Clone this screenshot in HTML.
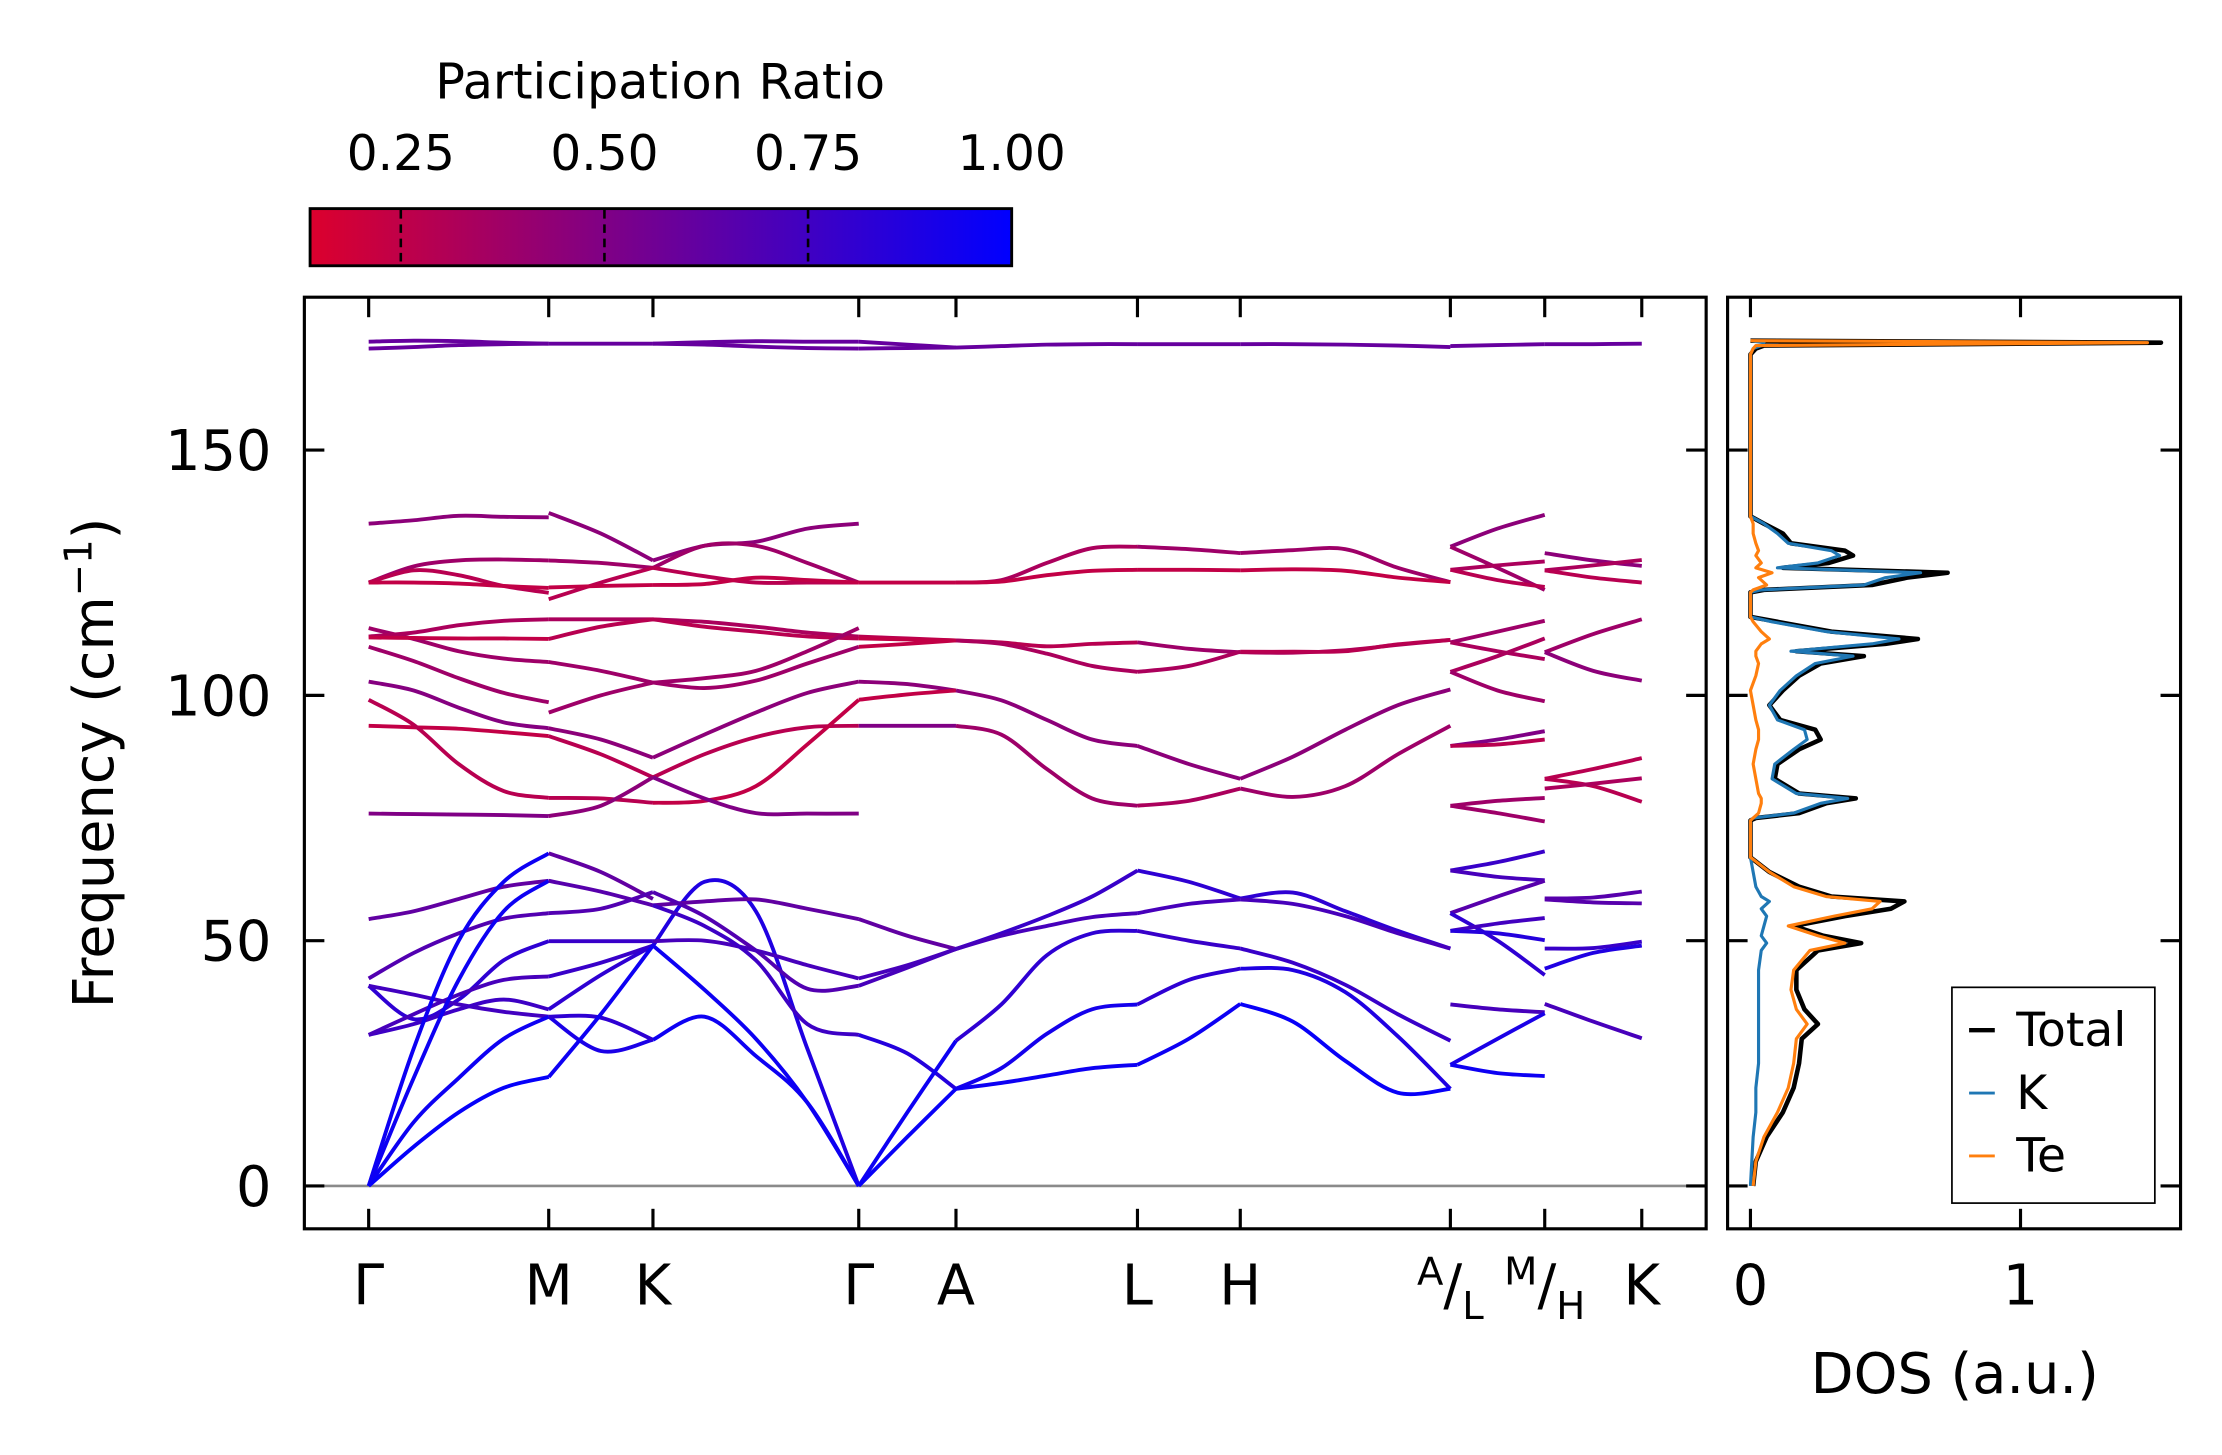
<!DOCTYPE html>
<html><head><meta charset="utf-8">
<style>
html,body{margin:0;padding:0;background:#fff;}
svg{display:block;}
text{font-family:"DejaVu Sans","Liberation Sans",sans-serif;fill:#000;}
</style></head>
<body>
<svg id="fig" width="2222" height="1455" viewBox="0 0 1555 1018.3" preserveAspectRatio="none" xmlns="http://www.w3.org/2000/svg">
<defs>
<linearGradient id="cbgrad" x1="0" x2="1" y1="0" y2="0">
<stop offset="0" stop-color="rgb(220,0,45)"/><stop offset="1" stop-color="rgb(0,0,255)"/>
</linearGradient>
<clipPath id="mainclip"><rect x="213" y="208" width="981" height="652"/></clipPath>
<clipPath id="dosclip"><rect x="1209" y="208" width="317" height="652"/></clipPath>
</defs>
<rect x="0" y="0" width="1555" height="1018.3" fill="#fff"/>
<g id="colorbar">
<text x="462" y="69" font-size="34.5" text-anchor="middle">Participation Ratio</text>
<rect x="217" y="146" width="491" height="40" fill="url(#cbgrad)" stroke="#000" stroke-width="2"/>
</g>
<g id="main"></g>
<g id="dos"></g>
</svg>
<script>
// ---------- data ----------
const cbTicks = [0.25, 0.50, 0.75, 1.00];
const cbTickLabels = ["0.25", "0.50", "0.75", "1.00"];
const kPoints = [0, 1, 1.579, 2.722, 3.262, 4.270, 4.841, 6.008, 6.532, 7.071];
const kLabels = ["Γ","M","K","Γ","A","L","H","A|L","M|H","K"];
const yTicks = [0, 50, 100, 150];
const yTickLabels = ["0","50","100","150"];

const bandsGM = [
[172.1,172.3,172.2,171.9,171.7],[170.7,171.0,171.4,171.6,171.7],[135,135.7,136.6,136.4,136.3],
[123,126.3,127.5,127.7,127.5],[123,125.5,124.5,122.3,120.9],[123,123,122.8,122.3,121.9],
[113.7,111.5,109,107.5,106.8],[112,112.8,114.3,115.2,115.5],[111.8,111.7,111.6,111.6,111.5],
[109.9,107,103.5,100.5,98.6],[102.8,101,97.5,94.5,93.3],[93.8,93.5,93.2,92.5,91.7],
[99.1,94,86,80.5,79.1],[75.9,75.8,75.7,75.6,75.4],[54.4,56,58.5,61,62.2],
[42.3,47.5,51.5,54.5,55.6],[40.8,34,38,46,49.9],[40.8,39,37,35.5,34.5],
[30.8,33,36,38,36],[30.8,35,39,42,42.7],[0,28,50,62,67.8],[0,22,42,56,62.2],
[0,13,22,30,34.5],[0,8,15,20,22.2]];
const prGM = [.6,.6,.45,.38,.28,.24,.38,.33,.24,.38,.48,.24,.28,.5,.62,.68,.82,.74,.76,.72,.95,.95,.95,.98];

const bandsMK = [
[171.7,171.7,171.7],[137.2,133,127.5],[127.5,127,126],[119.6,123,126],[122,122.3,122.5],
[115.5,115.5,115.5],[111.5,114,115.5],[106.8,105,102.6],[96.5,100,102.6],[93.3,91,87.3],
[91.7,88,83.3],[79.1,79,78.1],[75.4,77.5,83.3],[67.8,64,58.5],[62.2,60,57.2],
[55.6,56.5,59.9],[49.9,49.9,49.9],[42.7,45.5,49],[36,43,49],[34.5,27.5,29.8],
[34.5,34.3,29.8],[22.2,35,49]];
const prMK = [.6,.45,.38,.28,.24,.33,.28,.38,.38,.45,.28,.28,.45,.62,.66,.68,.78,.78,.82,.9,.82,.95];

const bandsKG = [
[171.7,172,172.2,172.1,172.1],[171.7,171.5,171.1,170.8,170.7],[127.5,130.5,131.3,134,135],
[126,130.5,130.5,127,123],[126,124.3,123,123,123],[122.5,122.7,124,123.5,123],
[115.5,115,114,112.8,112],[115.5,114,113,112,111.6],[102.6,103.5,105,109,113.7],
[102.6,101.5,103,106.5,109.9],[87.3,92,96.5,100.5,102.8],[83.3,88,91.5,93.5,93.8],
[78.1,78.5,81.5,90,99.1],[83.3,79,76,75.9,75.9],[49,62,56,28,0],[49,40,30,17,0],
[29.8,34.5,26.5,17,0],[57.2,58,58.4,56.5,54.4],[59.9,55,48,40.2,40.8],
[49.9,50,48,45,42.3],[57.2,53,46,33,30.8]];
const prKG = [.6,.6,.45,.38,.28,.24,.33,.28,.38,.38,.45,.28,.24,.5,.88,.95,.95,.62,.68,.72,.76];

const bandsGA = [
[172.1,171.5,170.9],[170.7,170.8,170.9],[123,123,123],[112,111.6,111.2],[111.6,111.4,111.2],
[109.9,110.5,111.2],[102.8,102.3,101],[99.1,100.2,101],[93.8,93.8,93.8],[54.4,51,48.3],
[40.8,44.5,48.3],[42.3,45,48.3],[30.8,27,19.8],[0,15,29.6],[0,10,19.8]];
const prGA = [.6,.6,.24,.28,.24,.24,.45,.24,.5,.62,.72,.72,.86,.95,.97];

const bandsAL = [
[170.9,171.2,171.5,171.6,171.6],[123,123.5,127,130,130.3],[123,123.2,124.5,125.4,125.6],
[111.2,110.8,110,110.5,110.8],[111.2,110.5,108.5,106,104.8],[101,99,95,91,89.7],
[93.8,92,85,79,77.5],[48.3,51.5,55,59,64.3],[48.3,51,53,54.8,55.6],[29.6,37,47,51.5,52],
[19.8,24,31,36,37],[19.8,21,22.5,24,24.7]];
const prAL = [.6,.33,.24,.28,.33,.45,.38,.78,.72,.82,.92,.95];

const bandsLH = [
[171.6,171.6,171.6],[130.3,129.8,129],[125.6,125.6,125.5],[110.8,109.5,108.8],[104.8,106,108.9],
[89.7,86,83],[77.5,78.5,81],[64.3,62,58.6],[55.6,57.5,58.4],[52,50,48.4],[37,42,44.3],[24.7,30,37.1]];
const prLH = [.6,.38,.24,.38,.33,.45,.33,.82,.72,.78,.82,.95];

const bandsHA = [
[171.6,171.6,171.5,171.3,171.0],[129,129.6,129.8,126,123.1],[125.5,125.7,125.4,124,123.1],
[108.8,108.7,109.2,110.3,111.3],[108.9,108.9,109,110.4,111.3],[83,87.5,93,98,101.2],
[81,79.3,81.5,88,93.8],[58.6,59.8,56,52,48.4],[58.4,57.5,55,51.5,48.4],[48.4,45.5,41,35,29.6],
[44.3,44,39.5,30.5,19.8],[37.1,33.5,25.5,19,19.8]];
const prHA = [.6,.38,.24,.33,.28,.45,.38,.82,.72,.78,.88,.97];

const bandsLM = [
[171.2,171.4,171.6],[130.3,134,136.8],[130.3,126,121.5],[125.6,126.5,127.3],[125.6,123.5,122.1],
[110.8,113,115.2],[110.8,109,107.4],[104.8,108,111.6],[104.8,101,98.8],[89.7,91,92.7],
[89.7,90,91],[77.5,78.5,79.1],[77.5,76,74.3],[64.3,66,68.2],[64.3,63,62.3],[55.6,59,62.2],
[55.6,50,43],[52,53.5,54.6],[52,51.5,50.1],[37,36,35.4],[24.7,30,35.2],[24.7,23,22.4]];
const prLM = [.6,.45,.38,.33,.28,.38,.33,.33,.38,.5,.28,.38,.38,.78,.72,.66,.82,.74,.86,.72,.9,.95];

const bandsHK = [
[171.6,171.6,171.7],[129,127.5,126.4],[125.5,126.5,127.6],[125.5,124,123],[108.8,112.5,115.5],
[108.8,105,103],[83,85,87.2],[83,81.5,78.3],[81,82,83.1],[58.6,58.8,60],[58.4,57.8,57.6],
[48.4,48.5,49.8],[44.3,47.5,49],[37.1,33.5,30.1]];
const prHK = [.6,.45,.33,.28,.38,.45,.28,.28,.33,.66,.66,.78,.88,.72];

const segments = [
 {from:0,to:1,bands:bandsGM,pr:prGM},{from:1,to:2,bands:bandsMK,pr:prMK},
 {from:2,to:3,bands:bandsKG,pr:prKG},{from:3,to:4,bands:bandsGA,pr:prGA},
 {from:4,to:5,bands:bandsAL,pr:prAL},{from:5,to:6,bands:bandsLH,pr:prLH},
 {from:6,to:7,bands:bandsHA,pr:prHA},{from:7,to:8,bands:bandsLM,pr:prLM},
 {from:8,to:9,bands:bandsHK,pr:prHK}];

const dosFreq = [0,5,10,15,20,25,30,33,36,40,44,48,49.5,51,53,55,56.5,58,59,61,64,67,74.5,75,76,78,79,80,83,86,89,91,93,95,98,101,104,106.5,108,109,110.5,111.5,113,115,116,121,121.5,122.5,124,125,126,127,128.5,129.5,131,133,135,136.5,169.5,170.7,171.3,171.9,172.3];
const dosTotal = [0.01,0.02,0.06,0.12,0.16,0.18,0.19,0.25,0.2,0.17,0.17,0.25,0.41,0.27,0.16,0.35,0.52,0.57,0.3,0.18,0.07,0,0,0.02,0.18,0.28,0.39,0.18,0.09,0.1,0.18,0.26,0.24,0.11,0.07,0.12,0.18,0.26,0.42,0.17,0.5,0.62,0.3,0.1,0,0,0.05,0.45,0.58,0.73,0.12,0.29,0.38,0.35,0.15,0.12,0.05,0,0,0.02,0.05,1.52,0];
const dosK = [0,0.005,0.01,0.02,0.02,0.03,0.03,0.03,0.03,0.03,0.03,0.04,0.06,0.04,0.05,0.06,0.04,0.07,0.04,0.02,0.01,0,0,0.01,0.16,0.26,0.36,0.17,0.08,0.09,0.16,0.21,0.2,0.1,0.07,0.11,0.17,0.24,0.38,0.15,0.45,0.55,0.28,0.08,0,0,0.04,0.42,0.5,0.63,0.1,0.25,0.33,0.3,0.14,0.1,0.05,0,0,0.01,0.04,0.05,0];
const dosTe = [0.01,0.02,0.05,0.1,0.14,0.16,0.17,0.21,0.17,0.15,0.16,0.22,0.35,0.25,0.14,0.31,0.45,0.48,0.28,0.16,0.07,0,0,0.01,0.03,0.04,0.04,0.03,0.02,0.01,0.02,0.03,0.03,0.02,0.01,0,0.02,0.03,0.02,0.02,0.04,0.07,0.04,0.01,0,0,0.01,0.06,0.03,0.08,0.02,0.04,0.02,0.03,0.02,0.01,0.01,0,0,0.01,0.02,1.47,0];
const dosXTicks = [0, 1];
const dosXTickLabels = ["0", "1"];
const legendNames = ["Total","K","Te"];
const legendColors = ["#000000","#1f77b4","#ff7f0e"];

// ---------- scales ----------
const NS = "http://www.w3.org/2000/svg";
const yScale = f => 830 - f * 3.4333;
const kScale = k => 258 + k * 126;
const dosScale = d => 1225 + d * 189;
const cbScale = v => 708 - (1 - v) * 570;
const prMin = 0.138;
function prColor(p){
  let t = (p - prMin) / (1 - prMin); t = Math.max(0, Math.min(1, t));
  return `rgb(${Math.round(220*(1-t))},0,${Math.round(45+(210)*t)})`;
}
function mk(tag, attrs, parent){
  const e = document.createElementNS(NS, tag);
  for (const k in attrs) e.setAttribute(k, attrs[k]);
  parent.appendChild(e); return e;
}
function smoothPath(pts){
  let d = `M${pts[0][0].toFixed(2)},${pts[0][1].toFixed(2)}`;
  for (let i = 0; i < pts.length - 1; i++){
    const p0 = pts[Math.max(0,i-1)], p1 = pts[i], p2 = pts[i+1], p3 = pts[Math.min(pts.length-1,i+2)];
    const c1x = p1[0] + (p2[0]-p0[0])/6, c1y = p1[1] + (p2[1]-p0[1])/6;
    const c2x = p2[0] - (p3[0]-p1[0])/6, c2y = p2[1] - (p3[1]-p1[1])/6;
    d += ` C${c1x.toFixed(2)},${c1y.toFixed(2)} ${c2x.toFixed(2)},${c2y.toFixed(2)} ${p2[0].toFixed(2)},${p2[1].toFixed(2)}`;
  }
  return d;
}
const main = document.getElementById('main');
const dos = document.getElementById('dos');
const cb = document.getElementById('colorbar');

cbTicks.forEach((v,i)=>{
  const x = cbScale(v);
  if (v < 1){
    const l = mk('line',{x1:x,x2:x,y1:147,y2:185,stroke:'#000','stroke-width':1.8,'stroke-dasharray':'6,4'},cb);
    
    
  }
  const t = mk('text',{x:x,y:119,'font-size':34,'text-anchor':'middle'},cb);
  t.textContent = cbTickLabels[i];
  
  
});

const zl = mk('line',{x1:213,x2:1194,y1:yScale(0),y2:yScale(0),stroke:'#8a8a8a','stroke-width':1.8},main);


const bandG = mk('g',{'clip-path':'url(#mainclip)'},main);


segments.forEach(seg=>{
  const x0 = kScale(kPoints[seg.from]), x1 = kScale(kPoints[seg.to]);
  seg.bands.forEach((vals,bi)=>{
    const n = vals.length;
    const pts = vals.map((v,j)=>[x0 + (x1-x0)*j/(n-1), yScale(v)]);
    const p = mk('path',{d:smoothPath(pts),fill:'none',stroke:prColor(seg.pr[bi]),'stroke-width':2.7,'stroke-linecap':'butt'},bandG);
    
    
  });
});
const mf = mk('rect',{x:213,y:208,width:981,height:652,fill:'none',stroke:'#000','stroke-width':2.2},main);


yTicks.forEach((v,i)=>{
  const y = yScale(v);
  mk('line',{x1:213,x2:227,y1:y,y2:y,stroke:'#000','stroke-width':2.2},main);
  mk('line',{x1:1180,x2:1194,y1:y,y2:y,stroke:'#000','stroke-width':2.2},main);
  const t = mk('text',{x:190,y:y+14,'font-size':39,'text-anchor':'end'},main);
  t.textContent = yTickLabels[i];
  
  
});
kPoints.forEach((k,i)=>{
  const x = kScale(k);
  mk('line',{x1:x,x2:x,y1:208,y2:222,stroke:'#000','stroke-width':2.2},main);
  mk('line',{x1:x,x2:x,y1:846,y2:860,stroke:'#000','stroke-width':2.2},main);
  const lab = kLabels[i];
  const t = mk('text',{x:x,y:913,'font-size':39,'text-anchor':'middle'},main);
  
  
  if (lab.indexOf('|')>=0){
    const [a,b] = lab.split('|');
    const s1 = mk('tspan',{'font-size':27,dy:-14},t); s1.textContent = a;
    const s2 = mk('tspan',{'font-size':39,dy:14},t); s2.textContent = '/';
    const s3 = mk('tspan',{'font-size':27,dy:10},t); s3.textContent = b;
  } else t.textContent = lab;
});
const yl = mk('text',{x:0,y:0,'font-size':39,'text-anchor':'middle',transform:'translate(79,534) rotate(-90)'},main);


yl.textContent = 'Frequency (cm';
const sup = mk('tspan',{'font-size':27,dy:-15},yl); sup.textContent = '−1';
const cl = mk('tspan',{dy:15},yl); cl.textContent = ')';

const dosLines = mk('g',{'clip-path':'url(#dosclip)'},dos);


function dosPath(vals){ return vals.map((v,i)=>`${i?'L':'M'}${dosScale(v).toFixed(2)},${yScale(dosFreq[i]).toFixed(2)}`).join(' '); }
const pT = mk('path',{d:dosPath(dosTotal),fill:'none',stroke:'#000','stroke-width':3.2,'stroke-linejoin':'round'},dosLines);


const pK = mk('path',{d:dosPath(dosK),fill:'none',stroke:'#1f77b4','stroke-width':2.2,'stroke-linejoin':'round'},dosLines);


const pTe = mk('path',{d:dosPath(dosTe),fill:'none',stroke:'#ff7f0e','stroke-width':2.2,'stroke-linejoin':'round'},dosLines);


const df = mk('rect',{x:1209,y:208,width:317,height:652,fill:'none',stroke:'#000','stroke-width':2.2},dos);


yTicks.forEach(v=>{
  const y = yScale(v);
  mk('line',{x1:1209,x2:1223,y1:y,y2:y,stroke:'#000','stroke-width':2.2},dos);
  mk('line',{x1:1512,x2:1526,y1:y,y2:y,stroke:'#000','stroke-width':2.2},dos);
});
dosXTicks.forEach((v,i)=>{
  const x = dosScale(v);
  mk('line',{x1:x,x2:x,y1:208,y2:222,stroke:'#000','stroke-width':2.2},dos);
  mk('line',{x1:x,x2:x,y1:846,y2:860,stroke:'#000','stroke-width':2.2},dos);
  const t = mk('text',{x:x,y:913,'font-size':39,'text-anchor':'middle'},dos);
  t.textContent = dosXTickLabels[i];
  
  
});
const dl = mk('text',{x:1368,y:975,'font-size':39,'text-anchor':'middle'},dos);
dl.textContent = 'DOS (a.u.)';



const lg = mk('g',{},dos);


mk('rect',{x:1366,y:691,width:142,height:151,fill:'#fff',stroke:'#000','stroke-width':1.2},lg);
legendNames.forEach((n,i)=>{
  const y = 721 + i*44;
  const e = mk('g',{},lg);
  
  
  mk('line',{x1:1378,x2:1396,y1:y,y2:y,stroke:legendColors[i],'stroke-width':i===0?3:2},e);
  const t = mk('text',{x:1411,y:y+11,'font-size':33},e);
  t.textContent = n;
});
</script>
</body></html>
